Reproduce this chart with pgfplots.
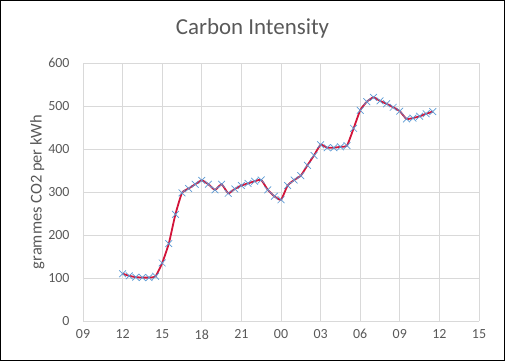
\documentclass[border=0pt]{standalone}
\usepackage{fontspec}
\setmainfont{Carlito}
\usepackage{pgfplots}
\pgfplotsset{compat=1.18}
\definecolor{txt}{HTML}{595959}
\definecolor{gridc}{HTML}{D9D9D9}
\definecolor{mk}{HTML}{5B9BD5}
\definecolor{ln}{HTML}{D2143A}
\begin{document}
\begin{tikzpicture}[x=1bp,y=1bp]
\draw[black,line width=1.2bp] (0.6,0.6) rectangle (504.4,360.4);
\node[text=txt, font=\fontsize{23}{26}\selectfont] at (252.5,333) {Carbon Intensity};
\begin{axis}[
  at={(83bp,40bp)}, anchor=south west,
  scale only axis, width=396bp, height=258bp,
  xmin=0, xmax=30, ymin=0, ymax=600,
  xtick={0,3,...,30},
  xticklabels={09,12,15,18,21,00,03,06,09,12,15},
  ytick={0,100,...,600},
  grid=major,
  major grid style={gridc, line width=0.8bp},
  axis line style={draw=none},
  axis x line*=bottom, axis y line*=left,
  major tick length=0pt,
  tick style={draw=none},
  ticklabel style={font=\fontsize{14}{16}\selectfont, text=txt},
  /pgf/number format/assume math mode=true,
  yticklabel style={xshift=-10bp},
  xticklabel style={yshift=-5bp},
  ylabel={grammes CO2 per kWh},
  ylabel style={font=\fontsize{16.5}{18}\selectfont, text=txt, yshift=-3bp},
  clip=false,
]
\draw[gridc, line width=0.8bp] (axis cs:0,0) -- (axis cs:30,0);
\addplot[ln, line width=1.8bp, smooth, tension=0.3, mark=x, mark size=4.8bp,
  mark options={mk, line width=0.7bp, solid}] coordinates {
(3.0,110) (3.5,105) (4.0,102) (4.5,101) (5.0,101) (5.5,104)
(6.0,135) (6.5,180) (7.0,248) (7.5,298) (8.0,308) (8.5,318)
(9.0,327) (9.5,318) (10.0,305) (10.5,318) (11.0,297) (11.5,307)
(12.0,315) (12.5,320) (13.0,325) (13.5,328) (14.0,305) (14.5,290)
(15.0,282) (15.5,315) (16.0,328) (16.5,338) (17.0,362) (17.5,385)
(18.0,410) (18.5,403) (19.0,403) (19.5,405) (20.0,408) (20.5,448)
(21.0,490) (21.5,510) (22.0,520) (22.5,512) (23.0,505) (23.5,497)
(24.0,488) (24.5,470) (25.0,472) (25.5,476) (26.0,482) (26.5,487)
};
\end{axis}
\end{tikzpicture}
\end{document}
